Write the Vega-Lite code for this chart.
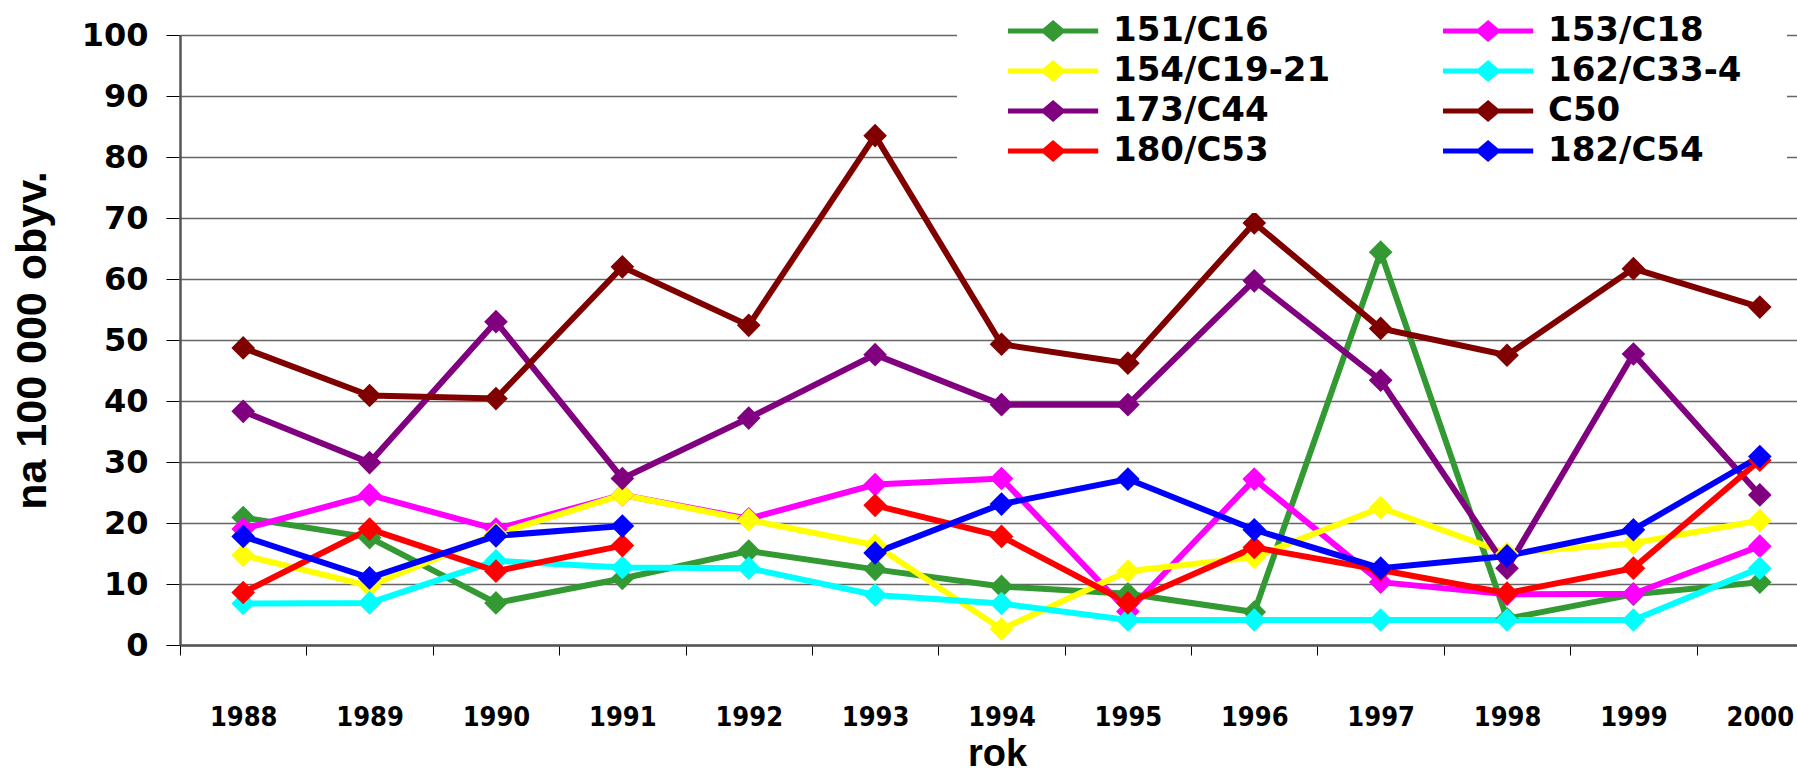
{
  "$schema": "https://vega.github.io/schema/vega-lite/v6.json",
  "width": 1617,
  "height": 610,
  "autosize": {"type": "none"},
  "padding": {"left": 180, "top": 35, "right": 0, "bottom": 130},
  "background": "white",
  "config": {
    "view": {"stroke": null},
    "axis": {"labelColor": "black", "titleColor": "black"}
  },
  "data": {
    "values": [
      {"year": 1988, "series": "151/C16", "v": 20.9},
      {"year": 1989, "series": "151/C16", "v": 17.6},
      {"year": 1990, "series": "151/C16", "v": 6.9},
      {"year": 1991, "series": "151/C16", "v": 10.9},
      {"year": 1992, "series": "151/C16", "v": 15.4},
      {"year": 1993, "series": "151/C16", "v": 12.4},
      {"year": 1994, "series": "151/C16", "v": 9.6},
      {"year": 1995, "series": "151/C16", "v": 8.4},
      {"year": 1996, "series": "151/C16", "v": 5.4},
      {"year": 1997, "series": "151/C16", "v": 64.4},
      {"year": 1998, "series": "151/C16", "v": 4.3},
      {"year": 1999, "series": "151/C16", "v": 8.3},
      {"year": 2000, "series": "151/C16", "v": 10.3},
      {"year": 1988, "series": "153/C18", "v": 19.0},
      {"year": 1989, "series": "153/C18", "v": 24.6},
      {"year": 1990, "series": "153/C18", "v": 19.0},
      {"year": 1991, "series": "153/C18", "v": 24.6},
      {"year": 1992, "series": "153/C18", "v": 20.7},
      {"year": 1993, "series": "153/C18", "v": 26.3},
      {"year": 1994, "series": "153/C18", "v": 27.3},
      {"year": 1995, "series": "153/C18", "v": 5.5},
      {"year": 1996, "series": "153/C18", "v": 27.2},
      {"year": 1997, "series": "153/C18", "v": 10.3},
      {"year": 1998, "series": "153/C18", "v": 8.3},
      {"year": 1999, "series": "153/C18", "v": 8.4},
      {"year": 2000, "series": "153/C18", "v": 16.2},
      {"year": 1988, "series": "154/C19-21", "v": 14.7},
      {"year": 1989, "series": "154/C19-21", "v": 9.7},
      {"year": 1990, "series": "154/C19-21", "v": 18.2},
      {"year": 1991, "series": "154/C19-21", "v": 24.6},
      {"year": 1992, "series": "154/C19-21", "v": 20.5},
      {"year": 1993, "series": "154/C19-21", "v": 16.4},
      {"year": 1994, "series": "154/C19-21", "v": 2.6},
      {"year": 1995, "series": "154/C19-21", "v": 12.1},
      {"year": 1996, "series": "154/C19-21", "v": 14.4},
      {"year": 1997, "series": "154/C19-21", "v": 22.5},
      {"year": 1998, "series": "154/C19-21", "v": 15.0},
      {"year": 1999, "series": "154/C19-21", "v": 16.7},
      {"year": 2000, "series": "154/C19-21", "v": 20.4},
      {"year": 1988, "series": "162/C33-4", "v": 6.8},
      {"year": 1989, "series": "162/C33-4", "v": 6.9},
      {"year": 1990, "series": "162/C33-4", "v": 13.8},
      {"year": 1991, "series": "162/C33-4", "v": 12.7},
      {"year": 1992, "series": "162/C33-4", "v": 12.6},
      {"year": 1993, "series": "162/C33-4", "v": 8.2},
      {"year": 1994, "series": "162/C33-4", "v": 6.8},
      {"year": 1995, "series": "162/C33-4", "v": 4.1},
      {"year": 1996, "series": "162/C33-4", "v": 4.1},
      {"year": 1997, "series": "162/C33-4", "v": 4.1},
      {"year": 1998, "series": "162/C33-4", "v": 4.1},
      {"year": 1999, "series": "162/C33-4", "v": 4.1},
      {"year": 2000, "series": "162/C33-4", "v": 12.6},
      {"year": 1988, "series": "173/C44", "v": 38.3},
      {"year": 1989, "series": "173/C44", "v": 29.9},
      {"year": 1990, "series": "173/C44", "v": 53.0},
      {"year": 1991, "series": "173/C44", "v": 27.3},
      {"year": 1992, "series": "173/C44", "v": 37.2},
      {"year": 1993, "series": "173/C44", "v": 47.6},
      {"year": 1994, "series": "173/C44", "v": 39.4},
      {"year": 1995, "series": "173/C44", "v": 39.4},
      {"year": 1996, "series": "173/C44", "v": 59.7},
      {"year": 1997, "series": "173/C44", "v": 43.4},
      {"year": 1998, "series": "173/C44", "v": 12.6},
      {"year": 1999, "series": "173/C44", "v": 47.7},
      {"year": 2000, "series": "173/C44", "v": 24.6},
      {"year": 1988, "series": "C50", "v": 48.7},
      {"year": 1989, "series": "C50", "v": 40.9},
      {"year": 1990, "series": "C50", "v": 40.4},
      {"year": 1991, "series": "C50", "v": 62.0},
      {"year": 1992, "series": "C50", "v": 52.4},
      {"year": 1993, "series": "C50", "v": 83.5},
      {"year": 1994, "series": "C50", "v": 49.3},
      {"year": 1995, "series": "C50", "v": 46.2},
      {"year": 1996, "series": "C50", "v": 69.2},
      {"year": 1997, "series": "C50", "v": 51.9},
      {"year": 1998, "series": "C50", "v": 47.5},
      {"year": 1999, "series": "C50", "v": 61.7},
      {"year": 2000, "series": "C50", "v": 55.4},
      {"year": 1988, "series": "180/C53", "v": 8.6},
      {"year": 1989, "series": "180/C53", "v": 19.0},
      {"year": 1990, "series": "180/C53", "v": 12.1},
      {"year": 1991, "series": "180/C53", "v": 16.3},
      {"year": 1992, "series": "180/C53", "v": null},
      {"year": 1993, "series": "180/C53", "v": 22.9},
      {"year": 1994, "series": "180/C53", "v": 17.8},
      {"year": 1995, "series": "180/C53", "v": 6.9},
      {"year": 1996, "series": "180/C53", "v": 16.0},
      {"year": 1997, "series": "180/C53", "v": 12.3},
      {"year": 1998, "series": "180/C53", "v": 8.5},
      {"year": 1999, "series": "180/C53", "v": 12.6},
      {"year": 2000, "series": "180/C53", "v": 30.3},
      {"year": 1988, "series": "182/C54", "v": 17.8},
      {"year": 1989, "series": "182/C54", "v": 11.0},
      {"year": 1990, "series": "182/C54", "v": 17.9},
      {"year": 1991, "series": "182/C54", "v": 19.5},
      {"year": 1992, "series": "182/C54", "v": null},
      {"year": 1993, "series": "182/C54", "v": 15.1},
      {"year": 1994, "series": "182/C54", "v": 23.1},
      {"year": 1995, "series": "182/C54", "v": 27.2},
      {"year": 1996, "series": "182/C54", "v": 18.9},
      {"year": 1997, "series": "182/C54", "v": 12.6},
      {"year": 1998, "series": "182/C54", "v": 14.6},
      {"year": 1999, "series": "182/C54", "v": 18.9},
      {"year": 2000, "series": "182/C54", "v": 30.9}
    ]
  },
  "encoding": {
    "x": {
      "field": "year",
      "type": "ordinal",
      "scale": {"type": "band", "paddingInner": 0, "paddingOuter": 0, "range": [0, 1643]},
      "axis": {
        "title": "rok",
        "labelAngle": 0,
        "tickBand": "extent",
        "tickSize": 10,
        "tickColor": "black",
        "tickWidth": 1,
        "domainColor": "#555555",
        "domainWidth": 2.5,
        "labelFont": "DejaVu Sans Condensed",
        "labelFontWeight": "bold",
        "labelFontSize": 27,
        "labelPadding": 49,
        "titleFont": "Liberation Sans",
        "titleFontWeight": "bold",
        "titleFontSize": 38,
        "titleX": 817,
        "titleY": 120,
        "titleBaseline": "alphabetic",
        "titleAlign": "center",
        "grid": false
      }
    },
    "y": {
      "field": "v",
      "type": "quantitative",
      "scale": {"domain": [0, 100], "nice": false},
      "axis": {
        "title": "na 100 000 obyv.",
        "values": [0, 10, 20, 30, 40, 50, 60, 70, 80, 90, 100],
        "tickSize": 14,
        "tickColor": "black",
        "tickWidth": 1,
        "domainColor": "#555555",
        "domainWidth": 2.5,
        "grid": true,
        "gridColor": "#666666",
        "gridWidth": 1.6,
        "labelFont": "DejaVu Sans",
        "labelFontWeight": "bold",
        "labelFontSize": 32,
        "labelPadding": 18,
        "titleFont": "Liberation Sans",
        "titleFontWeight": "bold",
        "titleFontSize": 43,
        "titleX": -148,
        "titleY": 305,
        "titleAngle": -90,
        "titleAlign": "center",
        "titleBaseline": "middle"
      }
    },
    "color": {
      "field": "series",
      "type": "nominal",
      "scale": {
        "domain": ["151/C16", "154/C19-21", "173/C44", "180/C53", "153/C18", "162/C33-4", "C50", "182/C54"],
        "range": ["#339933", "#FFFF00", "#800080", "#FF0000", "#FF00FF", "#00FFFF", "#800000", "#0000FF"]
      },
      "legend": {
        "title": null,
        "orient": "none",
        "legendX": 777,
        "legendY": -66,
        "columns": 2,
        "columnPadding": 106,
        "rowPadding": 6,
        "padding": 45,
        "fillColor": "white",
        "symbolType": "M-1,-0.23 L2.19,-0.23 L3.1,-1 L4.01,-0.23 L7.2,-0.23 L7.2,0.23 L4.01,0.23 L3.1,1 L2.19,0.23 L-1,0.23 Z",
        "symbolSize": 484,
        "symbolStrokeWidth": 0,
        "labelFont": "DejaVu Sans",
        "labelFontWeight": "bold",
        "labelFontSize": 34,
        "labelColor": "black",
        "labelOffset": 77,
        "labelLimit": 400,
        "encode": {
          "symbols": {
            "update": {
              "fill": {"scale": "color", "field": "value"},
              "fillOpacity": {"value": 1},
              "strokeWidth": {"value": 0}
            }
          }
        }
      }
    }
  },
  "layer": [
    {
      "mark": {"type": "line", "strokeWidth": 6, "invalid": "break-paths-filter-domains"}
    },
    {
      "mark": {"type": "point", "shape": "diamond", "filled": true, "size": 560, "opacity": 1, "strokeWidth": 0}
    }
  ]
}
